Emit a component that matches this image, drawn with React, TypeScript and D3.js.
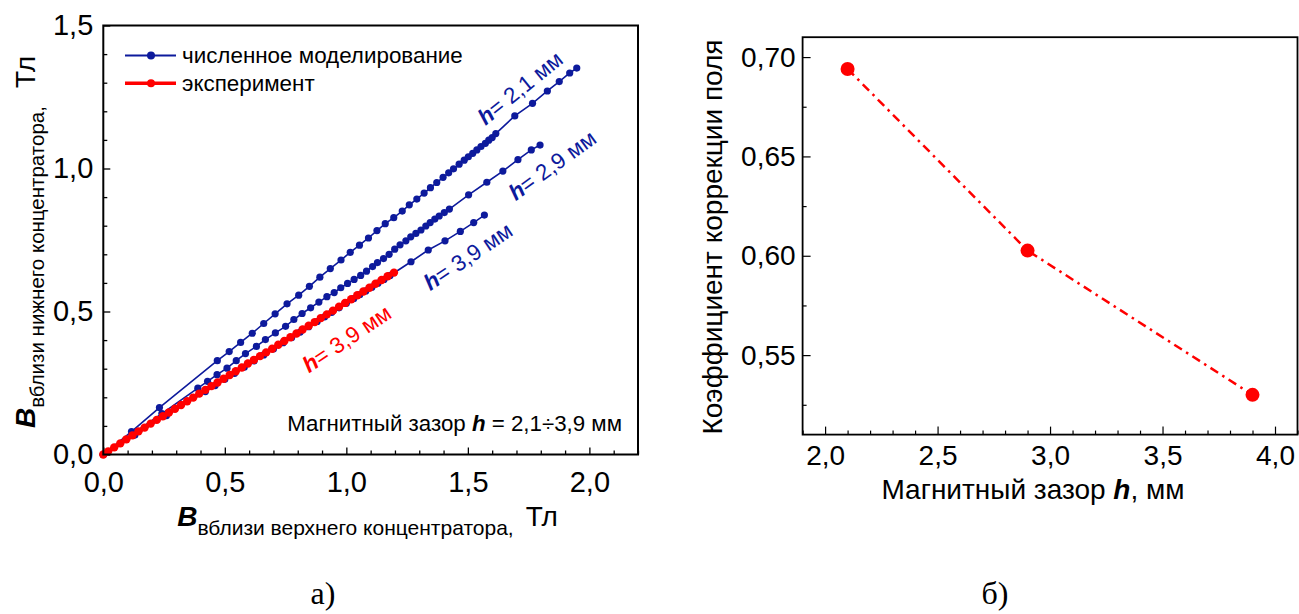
import React, { useRef, useEffect } from 'react';
import * as d3 from 'd3';

// B near lower concentrator vs B near upper concentrator, T
const sim21: [number, number][] = [
  [0, 0], [0.116, 0.08], [0.231, 0.164], [0.469, 0.328], [0.518, 0.36], [0.565, 0.392],
  [0.613, 0.424], [0.66, 0.458], [0.707, 0.492], [0.756, 0.527], [0.804, 0.557], [0.848, 0.588],
  [0.891, 0.62], [0.934, 0.65], [0.978, 0.68], [1.016, 0.707], [1.054, 0.732], [1.091, 0.757],
  [1.126, 0.783], [1.16, 0.807], [1.195, 0.828], [1.23, 0.851], [1.259, 0.873], [1.29, 0.893],
  [1.32, 0.914], [1.346, 0.933], [1.372, 0.951], [1.398, 0.969], [1.421, 0.985], [1.441, 0.999],
  [1.464, 1.015], [1.485, 1.029], [1.502, 1.041], [1.52, 1.053], [1.537, 1.065], [1.554, 1.077],
  [1.572, 1.088], [1.586, 1.099], [1.6, 1.108], [1.615, 1.122], [1.693, 1.184], [1.766, 1.228],
  [1.827, 1.271], [1.876, 1.304], [1.919, 1.334], [1.948, 1.351],
];
const sim29: [number, number][] = [
  [0, 0], [0.12, 0.072], [0.241, 0.143], [0.389, 0.232], [0.429, 0.256], [0.468, 0.279],
  [0.509, 0.302], [0.547, 0.328], [0.585, 0.353], [0.63, 0.378], [0.667, 0.402], [0.708, 0.425],
  [0.75, 0.448], [0.784, 0.472], [0.818, 0.493], [0.853, 0.513], [0.887, 0.533], [0.92, 0.552],
  [0.95, 0.566], [0.977, 0.583], [1.005, 0.598], [1.032, 0.612], [1.059, 0.626], [1.083, 0.641],
  [1.108, 0.657], [1.128, 0.671], [1.153, 0.685], [1.176, 0.7], [1.199, 0.718], [1.221, 0.733],
  [1.245, 0.747], [1.265, 0.761], [1.286, 0.773], [1.307, 0.785], [1.327, 0.799], [1.345, 0.811],
  [1.364, 0.823], [1.382, 0.834], [1.403, 0.846], [1.424, 0.858], [1.503, 0.908], [1.578, 0.952],
  [1.644, 0.991], [1.706, 1.031], [1.761, 1.065], [1.797, 1.082],
];
const sim39: [number, number][] = [
  [0, 0], [0.13, 0.068], [0.26, 0.136], [0.42, 0.22], [0.46, 0.241], [0.5, 0.263], [0.54, 0.284],
  [0.58, 0.305], [0.62, 0.327], [0.66, 0.348], [0.7, 0.369], [0.74, 0.391], [0.775, 0.409],
  [0.81, 0.428], [0.845, 0.447], [0.88, 0.465], [0.91, 0.481], [0.94, 0.497], [0.97, 0.513],
  [1.0, 0.529], [1.03, 0.545], [1.055, 0.559], [1.08, 0.572], [1.105, 0.585], [1.13, 0.599],
  [1.155, 0.612], [1.18, 0.626], [1.266, 0.674], [1.337, 0.715], [1.406, 0.747], [1.469, 0.78],
  [1.524, 0.811], [1.568, 0.837],
];
const experiment: [number, number][] = [
  [0, 0], [0.02, 0.011], [0.045, 0.025], [0.07, 0.039], [0.095, 0.053], [0.12, 0.067],
  [0.145, 0.081], [0.17, 0.094], [0.195, 0.108], [0.22, 0.121], [0.245, 0.134], [0.27, 0.147],
  [0.295, 0.16], [0.32, 0.173], [0.345, 0.186], [0.37, 0.199], [0.395, 0.213], [0.42, 0.226],
  [0.445, 0.239], [0.47, 0.252], [0.495, 0.265], [0.52, 0.278], [0.545, 0.291], [0.57, 0.304],
  [0.595, 0.318], [0.62, 0.331], [0.645, 0.344], [0.67, 0.357], [0.695, 0.37], [0.72, 0.384],
  [0.745, 0.397], [0.77, 0.41], [0.795, 0.423], [0.82, 0.437], [0.845, 0.45], [0.87, 0.463],
  [0.895, 0.477], [0.92, 0.49], [0.945, 0.503], [0.97, 0.517], [0.995, 0.53], [1.02, 0.543],
  [1.045, 0.557], [1.07, 0.57], [1.095, 0.583], [1.12, 0.597], [1.145, 0.61], [1.17, 0.623],
  [1.196, 0.636],
];

// field correction coefficient vs magnetic gap, mm
const gapMm = [2.1, 2.9, 3.9];
const corrCoef = [0.694, 0.6026, 0.53];

const leftXTicks = [0, 0.5, 1.0, 1.5, 2.0];
const leftYTicks = [0, 0.5, 1.0, 1.5];
const rightXTicks = [2.0, 2.5, 3.0, 3.5, 4.0];
const rightYTicks = [0.55, 0.6, 0.65, 0.7];

const NAVY = '#0d1a9c';
const RED = '#ff0000';
const FONT = '"Liberation Sans", Arial, sans-serif';

const comma = (f: string) => (d: any) => d3.format(f)(d).replace('.', ',');

const App = () => {
  const ref = useRef<SVGSVGElement>(null);

  useEffect(() => {
    const svg = d3.select(ref.current);
    svg.selectAll('*').remove();
    svg.append('rect').attr('width', 1299).attr('height', 614).attr('fill', '#fff');

    // ---------- left chart ----------
    const x = d3.scaleLinear().domain([0, 2.2]).range([103.3, 638]);
    const y = d3.scaleLinear().domain([0, 1.5]).range([454.5, 25.5]);
    const L = svg.append('g');

    const xMinor = d3.range(0, 2.21, 0.1).filter(v => Math.abs(v * 2 - Math.round(v * 2)) > 1e-6);
    const yMinor = d3.range(0, 1.51, 0.1).filter(v => Math.abs(v * 2 - Math.round(v * 2)) > 1e-6);

    const ax = L.append('g').attr('transform', `translate(0,${y(0)})`)
      .call(d3.axisBottom(x).tickValues(leftXTicks).tickSize(-7).tickPadding(17).tickFormat(comma('.1f')));
    L.append('g').attr('transform', `translate(0,${y(0)})`)
      .call(d3.axisBottom(x).tickValues(xMinor).tickSize(-4).tickFormat(() => ''));
    const ay = L.append('g').attr('transform', `translate(${x(0)},0)`)
      .call(d3.axisLeft(y).tickValues(leftYTicks).tickSize(-7).tickPadding(10).tickFormat(comma('.1f')));
    L.append('g').attr('transform', `translate(${x(0)},0)`)
      .call(d3.axisLeft(y).tickValues(yMinor).tickSize(-4).tickFormat(() => ''));
    L.selectAll('.domain').remove();
    L.selectAll('.tick line').attr('stroke', '#000').attr('stroke-width', 1.3);
    [ax, ay].forEach(a => a.selectAll('text').attr('font-family', FONT).attr('font-size', 29).attr('fill', '#000'));

    const lineGen = d3.line<[number, number]>().x(d => x(d[0])).y(d => y(d[1]));
    [sim21, sim29, sim39].forEach(s => {
      L.append('path').attr('d', lineGen(s)).attr('fill', 'none').attr('stroke', NAVY).attr('stroke-width', 1.6);
      L.append('g').selectAll('circle').data(s).join('circle')
        .attr('cx', d => x(d[0])).attr('cy', d => y(d[1])).attr('r', 3.6).attr('fill', NAVY);
    });
    L.append('path').attr('d', lineGen(experiment)).attr('fill', 'none').attr('stroke', RED).attr('stroke-width', 4);
    L.append('g').selectAll('circle').data(experiment).join('circle')
      .attr('cx', d => x(d[0])).attr('cy', d => y(d[1])).attr('r', 4.2).attr('fill', RED);

    L.append('rect').attr('x', x(0)).attr('y', y(1.5)).attr('width', x(2.2) - x(0)).attr('height', y(0) - y(1.5))
      .attr('fill', 'none').attr('stroke', '#000').attr('stroke-width', 2);

    // legend
    const legend = [
      { label: 'численное моделирование', color: NAVY, w: 1.8 },
      { label: 'эксперимент', color: RED, w: 3.5 },
    ];
    legend.forEach((d, i) => {
      const ly = 55.5 + i * 27.8;
      L.append('line').attr('x1', 125).attr('x2', 176).attr('y1', ly).attr('y2', ly)
        .attr('stroke', d.color).attr('stroke-width', d.w);
      L.append('circle').attr('cx', 151).attr('cy', ly).attr('r', 4).attr('fill', d.color);
      L.append('text').attr('x', 182).attr('y', ly + 7.5).attr('font-family', FONT).attr('font-size', 22.4)
        .attr('fill', '#000').text(d.label);
    });

    // curve labels
    const labels = [
      { t: '= 2,1 мм', px: 1.715, py: 1.282, a: -39, c: NAVY },
      { t: '= 2,9 мм', px: 1.847, py: 1.012, a: -36, c: NAVY },
      { t: '= 3,9 мм', px: 1.5, py: 0.693, a: -34, c: NAVY },
      { t: '= 3,9 мм', px: 1.001, py: 0.405, a: -34, c: RED },
    ];
    labels.forEach(d => {
      const t = L.append('text').attr('transform', `translate(${x(d.px)},${y(d.py)}) rotate(${d.a})`)
        .attr('text-anchor', 'middle').attr('dy', '0.35em').attr('font-family', FONT).attr('font-size', 22.5).attr('fill', d.c);
      t.append('tspan').attr('font-weight', 'bold').attr('font-style', 'italic').text('h');
      t.append('tspan').text(d.t);
    });

    const note = L.append('text').attr('x', 622).attr('y', 431).attr('text-anchor', 'end')
      .attr('font-family', FONT).attr('font-size', 22.3).attr('fill', '#000');
    note.append('tspan').text('Магнитный зазор ');
    note.append('tspan').attr('font-weight', 'bold').attr('font-style', 'italic').text('h');
    note.append('tspan').text(' = 2,1÷3,9 мм');

    // axis titles
    const xt = L.append('text').attr('x', 367.5).attr('y', 526).attr('text-anchor', 'middle')
      .attr('font-family', FONT).attr('fill', '#000');
    xt.append('tspan').attr('font-size', 28).attr('font-weight', 'bold').attr('font-style', 'italic').text('B');
    xt.append('tspan').attr('font-size', 21).attr('dy', 9).text('вблизи верхнего концентратора,');
    xt.append('tspan').attr('font-size', 28).attr('dy', -9).attr('dx', 12).text('Тл');

    const yt = L.append('text').attr('transform', 'translate(35,242) rotate(-90)').attr('text-anchor', 'middle')
      .attr('font-family', FONT).attr('fill', '#000');
    yt.append('tspan').attr('font-size', 28).attr('font-weight', 'bold').attr('font-style', 'italic').text('B');
    yt.append('tspan').attr('font-size', 20.5).attr('dy', 9).text('вблизи нижнего концентратора,');
    yt.append('tspan').attr('font-size', 28).attr('dy', -9).attr('dx', 18).text('Тл');

    // ---------- right chart ----------
    const x2 = d3.scaleLinear().domain([1.9, 4.1]).range([802.6, 1297.5]);
    const y2 = d3.scaleLinear().domain([0.51, 0.71]).range([434.6, 37.2]);
    const R = svg.append('g');
    const x2Minor = d3.range(1.9, 4.11, 0.1).filter(v => Math.abs(v * 2 - Math.round(v * 2)) > 1e-6);
    const y2Minor = [0.525, 0.575, 0.625, 0.675];

    const bx = R.append('g').attr('transform', `translate(0,${y2.range()[0]})`)
      .call(d3.axisBottom(x2).tickValues(rightXTicks).tickSize(-8).tickPadding(11).tickFormat(comma('.1f')));
    R.append('g').attr('transform', `translate(0,${y2.range()[0]})`)
      .call(d3.axisBottom(x2).tickValues(x2Minor).tickSize(-4).tickFormat(() => ''));
    const by = R.append('g').attr('transform', `translate(${x2.range()[0]},0)`)
      .call(d3.axisLeft(y2).tickValues(rightYTicks).tickSize(-8).tickPadding(7).tickFormat(comma('.2f')));
    R.append('g').attr('transform', `translate(${x2.range()[0]},0)`)
      .call(d3.axisLeft(y2).tickValues(y2Minor).tickSize(-4).tickFormat(() => ''));
    R.selectAll('.domain').remove();
    R.selectAll('.tick line').attr('stroke', '#000').attr('stroke-width', 1.2);
    [bx, by].forEach(a => a.selectAll('text').attr('font-family', FONT).attr('font-size', 28).attr('fill', '#000'));

    const pts = gapMm.map((g, i) => [g, corrCoef[i]] as [number, number]);
    R.append('path').attr('d', d3.line<[number, number]>().x(d => x2(d[0])).y(d => y2(d[1]))(pts))
      .attr('fill', 'none').attr('stroke', RED).attr('stroke-width', 2.5).attr('stroke-dasharray', '9,5,2.5,5');
    R.append('g').selectAll('circle').data(pts).join('circle')
      .attr('cx', d => x2(d[0])).attr('cy', d => y2(d[1])).attr('r', 7).attr('fill', RED);

    R.append('rect').attr('x', x2.range()[0]).attr('y', y2.range()[1])
      .attr('width', x2.range()[1] - x2.range()[0]).attr('height', y2.range()[0] - y2.range()[1])
      .attr('fill', 'none').attr('stroke', '#000').attr('stroke-width', 1.8);

    const x2t = R.append('text').attr('x', 1033).attr('y', 499).attr('text-anchor', 'middle')
      .attr('font-family', FONT).attr('font-size', 28).attr('fill', '#000');
    x2t.append('tspan').text('Магнитный зазор ');
    x2t.append('tspan').attr('font-weight', 'bold').attr('font-style', 'italic').text('h');
    x2t.append('tspan').text(', мм');

    R.append('text').attr('transform', 'translate(722,237) rotate(-90)').attr('text-anchor', 'middle')
      .attr('font-family', FONT).attr('font-size', 28).attr('fill', '#000').text('Коэффициент коррекции поля');

    // panel captions
    [{ t: 'а)', cx: 323 }, { t: 'б)', cx: 995 }].forEach(d => {
      svg.append('text').attr('x', d.cx).attr('y', 604).attr('text-anchor', 'middle')
        .attr('font-family', '"Liberation Serif", "Times New Roman", serif').attr('font-size', 32)
        .attr('fill', '#000').text(d.t);
    });
  }, []);

  return (
    <svg ref={ref} width={1299} height={614}
      style={{ position: 'absolute', left: 0, top: 0, display: 'block' }} />
  );
};

export default App;
